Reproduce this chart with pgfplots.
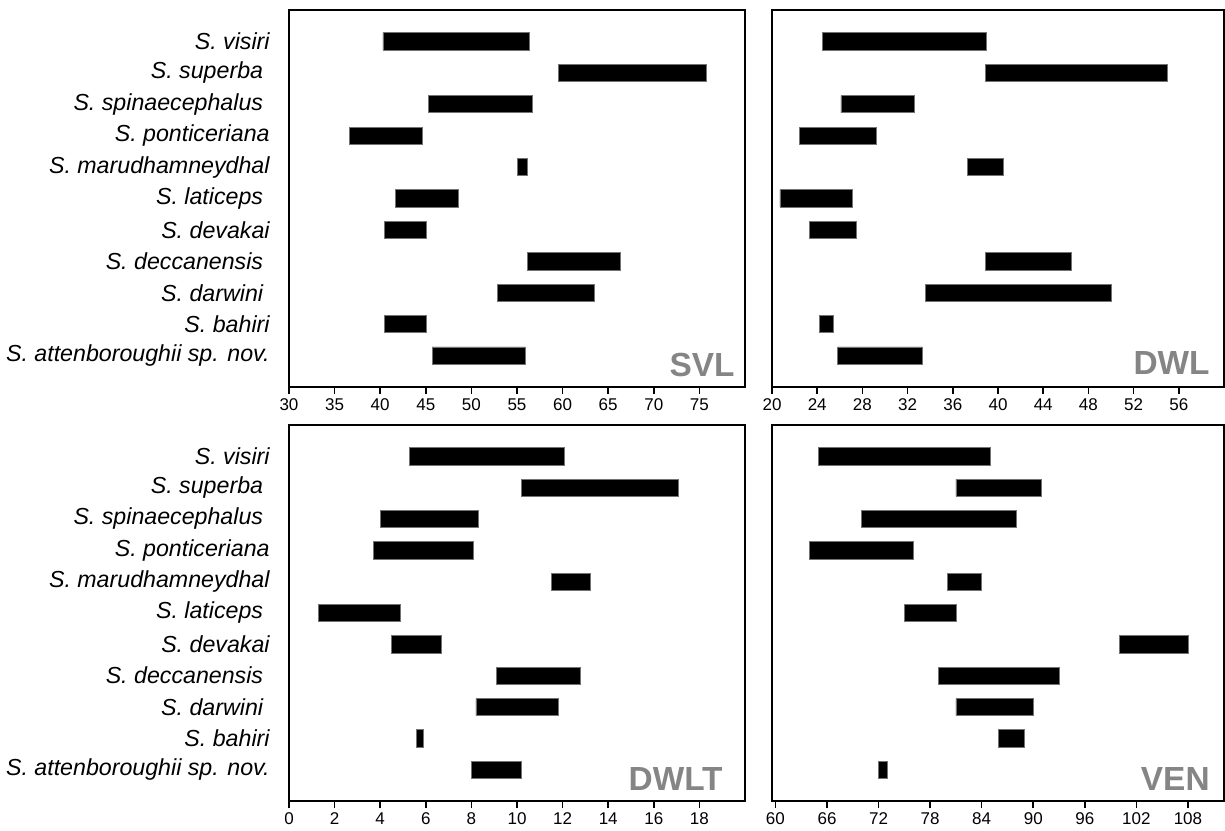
\documentclass[border=0pt]{standalone}
\usepackage{pgfplots}
\pgfplotsset{compat=1.18}
\usepackage{pgfplotstable}
\usepackage{fontspec}
\setmainfont{Liberation Sans}
\definecolor{labgray}{HTML}{858585}

% columns: y (1 = S. attenboroughii ... 11 = S. visiri), lo, hi
\pgfplotstableread{
y lo hi
11 40.3 56.4
10 59.5 75.8
9 45.3 56.7
8 36.6 44.6
7 55.0 56.1
6 41.7 48.6
5 40.5 45.1
4 56.1 66.3
3 52.9 63.5
2 40.5 45.1
1 45.7 55.9
}\svl
\pgfplotstableread{
y lo hi
11 24.5 39.0
10 38.9 55.0
9 26.1 32.6
8 22.4 29.2
7 37.3 40.5
6 20.7 27.1
5 23.3 27.5
4 38.9 46.5
3 33.6 50.0
2 24.2 25.4
1 25.8 33.3
}\dwl
\pgfplotstableread{
y lo hi
11 5.3 12.1
10 10.2 17.1
9 4.0 8.3
8 3.7 8.1
7 11.5 13.2
6 1.3 4.9
5 4.5 6.7
4 9.1 12.8
3 8.2 11.8
2 5.6 5.9
1 8.0 10.2
}\dwlt
\pgfplotstableread{
y lo hi
11 65 85
10 81 91
9 70 88
8 64 76
7 80 84
6 75 81
5 100 108
4 79 93
3 81 90
2 86 89
1 72 73
}\ven

\tikzset{
  plab/.style={anchor=south east, inner sep=0pt, text=labgray, font=\bfseries\fontsize{16.7}{18}\selectfont},
  lobar/.style={draw=none, fill=none},
  hibar/.style={fill=black, draw=black!55, line width=0.4pt},
}

\pgfplotsset{
  panel/.style={
    scale only axis,
    ymin=0, ymax=12,
    xbar stacked,
    bar width=8.65pt,
    axis line style={line width=1pt},
    tick align=outside,
    xtick pos=bottom,
    ytick pos=left,
    major tick length=3.5pt,
    xtick style={line width=0.8pt, black},
    ytick style={draw=none},
    xticklabel style={font=\fontsize{8.5}{10}\selectfont, inner sep=2pt},
    /pgf/number format/assume math mode=true,
  },
  leftpanel/.style={
    panel, width=228pt,
    ytick={1,...,11},
    yticklabels={S. attenboroughii sp. nov.,S. bahiri,S. darwini\kern.28em,S. deccanensis\kern.28em,S. devakai,S. laticeps\kern.28em,S. marudhamneydhal,S. ponticeriana,S. spinaecephalus\kern.28em,S. superba\kern.28em,S. visiri},
    yticklabel style={font=\itshape\fontsize{11.6}{13}\selectfont, inner sep=0pt, xshift=-6pt},
  },
  rightpanel/.style={
    panel, width=226pt,
    ytick=\empty,
  },
}

\begin{document}
\begin{tikzpicture}
\path[use as bounding box] (0,0) rectangle (612.5pt,415pt);

% SVL
\begin{axis}[leftpanel, at={(144.5pt,221.5pt)}, anchor=south west, height=188.5pt,
  xmin=30, xmax=80, xtick={30,35,...,75}]
  \addplot[lobar] table[x=lo, y=y] {\svl};
  \addplot[hibar] table[x expr=\thisrow{hi}-\thisrow{lo}, y=y] {\svl};
  \node[plab, xshift=-5pt, yshift=5pt] at (rel axis cs:1,0) {SVL};
\end{axis}

% DWL
\begin{axis}[rightpanel, at={(386pt,221.5pt)}, anchor=south west, height=188.5pt,
  xmin=20, xmax=60, xtick={20,24,...,56}]
  \addplot[lobar] table[x=lo, y=y] {\dwl};
  \addplot[hibar] table[x expr=\thisrow{hi}-\thisrow{lo}, y=y] {\dwl};
  \node[plab, xshift=-7pt, yshift=6pt] at (rel axis cs:1,0) {DWL};
\end{axis}

% DWLT
\begin{axis}[leftpanel, at={(144.5pt,14.5pt)}, anchor=south west, height=188pt,
  xmin=0, xmax=20, xtick={0,2,...,18}]
  \addplot[lobar] table[x=lo, y=y] {\dwlt};
  \addplot[hibar] table[x expr=\thisrow{hi}-\thisrow{lo}, y=y] {\dwlt};
  \node[plab, xshift=-11pt, yshift=5pt] at (rel axis cs:1,0) {DWLT};
\end{axis}

% VEN
\begin{axis}[rightpanel, at={(386pt,14.5pt)}, anchor=south west, height=188pt,
  xmin=59.6, xmax=112.2, xtick={60,66,...,108}]
  \addplot[lobar] table[x=lo, y=y] {\ven};
  \addplot[hibar] table[x expr=\thisrow{hi}-\thisrow{lo}, y=y] {\ven};
  \node[plab, xshift=-7pt, yshift=5pt] at (rel axis cs:1,0) {VEN};
\end{axis}
\end{tikzpicture}
\end{document}
